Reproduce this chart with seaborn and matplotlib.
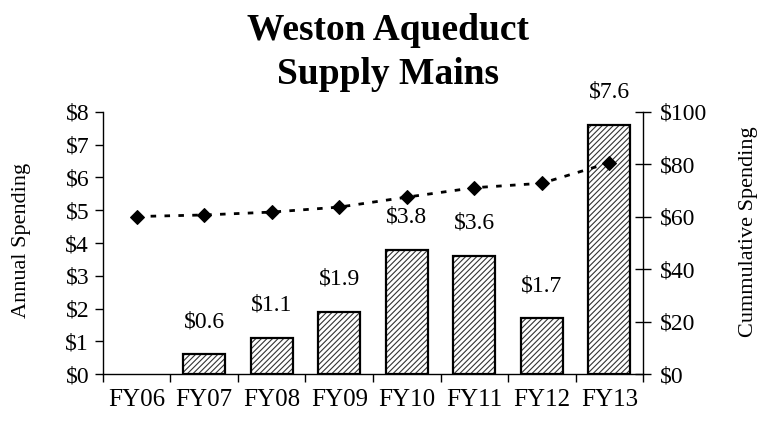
import numpy as np
import pandas as pd
import matplotlib
matplotlib.use("Agg")
import matplotlib.pyplot as plt
import seaborn as sns
from matplotlib.ticker import FixedLocator

years = ["FY06", "FY07", "FY08", "FY09", "FY10", "FY11", "FY12", "FY13"]
annual = [0.0, 0.6, 1.1, 1.9, 3.8, 3.6, 1.7, 7.6]
annual_labels = ["", "$0.6", "$1.1", "$1.9", "$3.8", "$3.6", "$1.7", "$7.6"]
cumulative = [60.1, 60.7, 61.8, 63.7, 67.5, 71.1, 72.8, 80.6]
left_ticks = [0, 1, 2, 3, 4, 5, 6, 7, 8]
right_ticks = [0, 20, 40, 60, 80, 100]

sns.set_theme(style="white")
plt.rcParams['font.family'] = ['Liberation Serif', 'DejaVu Serif']
plt.rcParams['hatch.linewidth'] = 0.8
plt.rcParams['text.color'] = 'black'
plt.rcParams['xtick.color'] = 'black'
plt.rcParams['ytick.color'] = 'black'
plt.rcParams['xtick.labelcolor'] = 'black'
plt.rcParams['ytick.labelcolor'] = 'black'

df = pd.DataFrame({"year": years, "annual": annual})

fig = plt.figure(figsize=(7.61, 4.21), dpi=100)
ax = fig.add_axes([0.1353, 0.1116, 0.845 - 0.1353, 0.734 - 0.1116])

sns.barplot(data=df, x="year", y="annual", ax=ax, color="white",
            edgecolor="#333333", linewidth=0, hatch="//////", width=0.62)
sns.barplot(data=df, x="year", y="annual", ax=ax, fill=False,
            edgecolor="black", linewidth=1.6, width=0.62)
for p in ax.patches:
    if p.get_height() == 0:
        p.set_visible(False)

for i, (v, lab) in enumerate(zip(annual, annual_labels)):
    if lab:
        ax.annotate(lab, xy=(i, v), xytext=(0, 16), textcoords="offset points",
                    ha="center", va="bottom", fontsize=17)

ax.set_ylim(0, 8)
ax.set_xlim(-0.5, len(years) - 0.5)
ax.set_yticks(left_ticks)
ax.set_yticklabels([f"${t}" for t in left_ticks], fontsize=17)
ax.set_xticks(range(len(years)))
ax.set_xticklabels(years, fontsize=18)
ax.xaxis.set_minor_locator(FixedLocator(np.arange(-0.5, len(years), 1.0)))
ax.tick_params(axis="x", which="major", length=0, pad=11)
ax.tick_params(axis="x", which="minor", length=6, width=1, direction="out", bottom=True)
ax.tick_params(axis="y", which="major", length=6, width=1, direction="out", left=True, pad=4)
ax.set_xlabel("")
ax.set_ylabel("")
for s in ["top", "right"]:
    ax.spines[s].set_visible(False)
for s in ["left", "bottom"]:
    ax.spines[s].set_color("black")
    ax.spines[s].set_linewidth(1)

ax2 = ax.twinx()
sns.lineplot(x=np.arange(len(years)), y=cumulative, ax=ax2, color="black",
             marker="D", markersize=7, markeredgecolor="black",
             linewidth=2.0, linestyle=(0, (2, 3)))
ax2.set_ylim(0, 100)
ax2.set_yticks(right_ticks)
ax2.set_yticklabels([f"${t}" for t in right_ticks], fontsize=17)
ax2.tick_params(axis="y", which="major", length=12, width=1, direction="inout", right=True, pad=6)
for s in ["top", "left", "bottom"]:
    ax2.spines[s].set_visible(False)
ax2.spines["right"].set_color("black")
ax2.spines["right"].set_linewidth(1)
ax2.set_ylabel("")

fig.text(0.51, 0.927, "Weston Aqueduct", ha="center", va="center",
         fontsize=27, fontweight="bold")
fig.text(0.51, 0.823, "Supply Mains", ha="center", va="center",
         fontsize=27, fontweight="bold")
fig.text(0.028, 0.43, "Annual Spending", rotation=90, ha="center", va="center", fontsize=16)
fig.text(0.983, 0.45, "Cummulative Spending", rotation=90, ha="center", va="center", fontsize=16)

fig.savefig("out.png", dpi=100)
